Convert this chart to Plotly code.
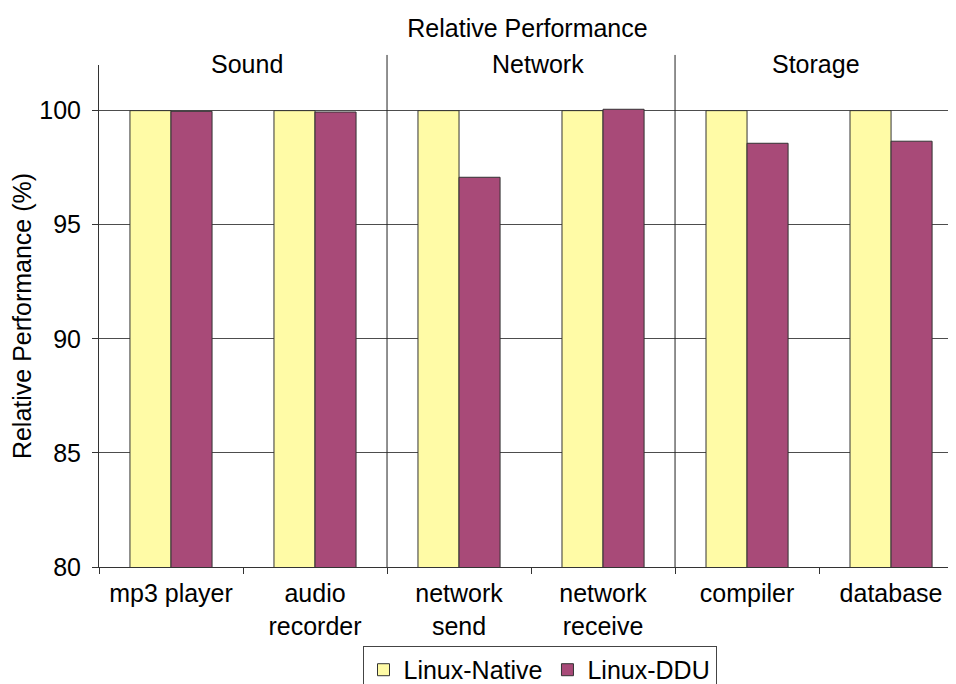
import plotly.graph_objects as go

categories = ["mp3 player", "audio<br>recorder", "network<br>send", "network<br>receive", "compiler", "database"]
native = [100, 100, 100, 100, 100, 100]
ddu = [99.97, 99.94, 97.08, 100.06, 98.57, 98.66]
groups = ["Sound", "Network", "Storage"]
group_pos = [0.53, 2.545, 4.48]
separators = [1.5, 3.5]
y_ticks = [80, 85, 90, 95, 100]

FONT = "Liberation Sans, Arial, Helvetica, sans-serif"

fig = go.Figure()
fig.add_trace(go.Bar(x=categories, y=native, name="Linux-Native",
                     marker=dict(color="#FFFBA6", line=dict(color="#333333", width=1))))
fig.add_trace(go.Bar(x=categories, y=ddu, name="Linux-DDU",
                     marker=dict(color="#A84A78", line=dict(color="#333333", width=1))))

for s in separators:
    fig.add_shape(type="line", xref="x", yref="paper", x0=s, x1=s, y0=0, y1=1.02,
                  line=dict(color="#222222", width=1))
for g, p in zip(groups, group_pos):
    fig.add_annotation(text=g, x=p, xref="x", y=1.0, yref="paper", yanchor="bottom",
                       yshift=-15, showarrow=False, font=dict(size=25, color="black", family=FONT))

fig.update_layout(
    width=948, height=676,
    margin=dict(l=91, r=0, t=57, b=117, autoexpand=False),
    paper_bgcolor="white", plot_bgcolor="white",
    font=dict(family=FONT, size=25, color="black"),
    title=dict(text="Relative Performance", x=0.5, xref="paper", xanchor="center",
               y=1 - 20 / 676, yref="container", yanchor="middle",
               font=dict(size=25, color="black", family=FONT)),
    barmode="group", bargap=0.43, bargroupgap=0,
    showlegend=True,
    legend=dict(orientation="h", x=0.5 + 12 / 857, xanchor="center", y=-0.1573, yanchor="top",
                bordercolor="#444444", borderwidth=1, font=dict(size=25, color="black"),
                bgcolor="white"),
)
fig.update_xaxes(range=[-0.5, 5.451], showline=True, linecolor="#333333", linewidth=1,
                 ticks="outside", tickson="boundaries", ticklen=6, tickcolor="#333333",
                 showgrid=False, tickfont=dict(size=25), automargin=False, ticklabelstandoff=4)
fig.update_yaxes(range=[80, 102], tickvals=y_ticks, showline=True, linecolor="#333333",
                 linewidth=1, ticks="outside", ticklen=6, tickcolor="#333333",
                 showgrid=True, gridcolor="#4d4d4d", gridwidth=1, zeroline=False,
                 tickfont=dict(size=25), ticklabelstandoff=6, automargin=False,
                 title=dict(text="Relative Performance (%)", font=dict(size=25), standoff=3))

fig.write_html("out.html")
